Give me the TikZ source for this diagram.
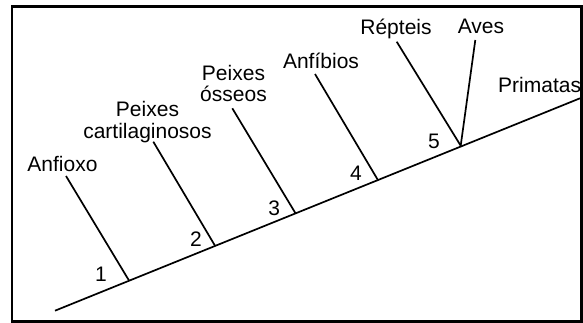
\documentclass[tikz,border=0pt]{standalone}
\usepackage{fontspec}
\setmainfont{Liberation Sans}
\begin{document}
\begin{tikzpicture}[x=1pt,y=-1pt,
  lbl/.style={inner sep=0pt,anchor=base,align=center,font=\fontsize{21}{21.5}\selectfont},
  num/.style={inner sep=0pt,anchor=base,font=\fontsize{21}{21}\selectfont},
  branch/.style={line width=1.7pt},
  frame/.style={line width=2.6pt}]
\useasboundingbox (0,0) rectangle (583,323);
\draw[frame] (11.8,6.8) rectangle (581.5,321.5);
% main line
\coordinate (m0) at (55,310.7);
\coordinate (m6) at (580,98.3);
\draw[branch] (m0) -- (m6);
% junctions and tops
\coordinate (j1) at (129.3,281);
\coordinate (t1) at (66,176);
\coordinate (j2) at (215,245.7);
\coordinate (t2) at (153.3,141.7);
\coordinate (j3) at (295.5,213.3);
\coordinate (t3) at (232.3,108.3);
\coordinate (j4) at (378.3,180.7);
\coordinate (t4) at (315,74);
\coordinate (j5) at (460.7,145.7);
\coordinate (t5) at (396.7,41.7);
\coordinate (t6) at (475.3,40);
\draw[branch] (j1) -- (t1);
\draw[branch] (j2) -- (t2);
\draw[branch] (j3) -- (t3);
\draw[branch] (j4) -- (t4);
\draw[branch] (j5) -- (t5);
\draw[branch] (j5) -- (t6);
% labels
\node[lbl] (anf) at (62.5,171.7) {Anfioxo};
\node[lbl] (pc) at (147.5,138.3) {Peixes\\cartilaginosos};
\node[lbl] (po) at (233.5,101.7) {Peixes\\ósseos};
\node[lbl] (amph) at (321,68.3) {Anfíbios};
\node[lbl] (rep) at (396,35) {Répteis};
\node[lbl] (ave) at (481,34) {Aves};
\node[lbl,anchor=base west] (pri) at (498,93) {Primatas};
% numbers
\node[num] (n1) at (101,281.7) {1};
\node[num] (n2) at (196,246.7) {2};
\node[num] (n3) at (274.3,215) {3};
\node[num] (n4) at (356,180) {4};
\node[num] (n5) at (434,148.3) {5};
\end{tikzpicture}
\end{document}
